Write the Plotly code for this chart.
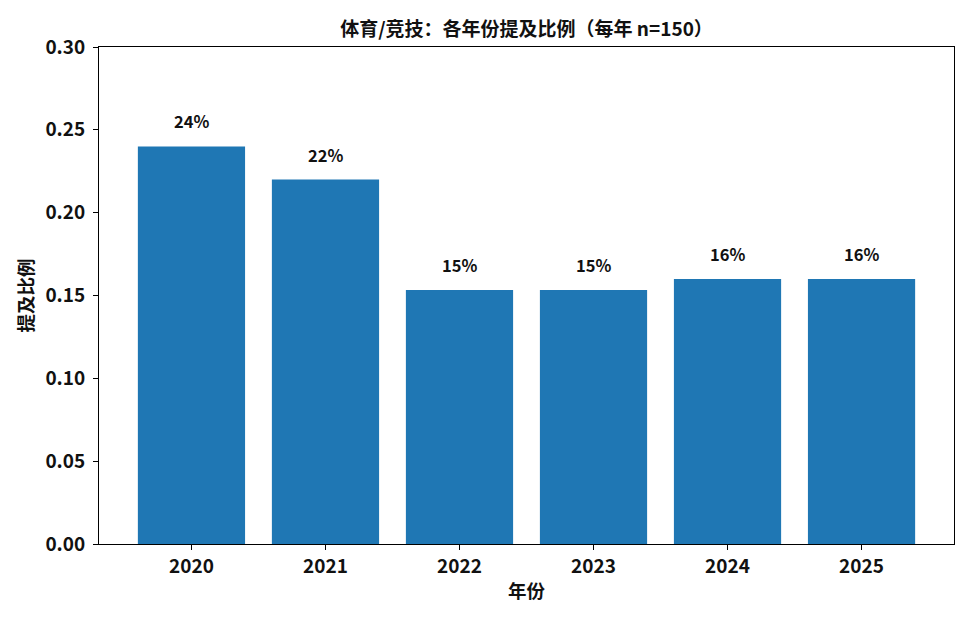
import plotly.graph_objects as go

years = ["2020", "2021", "2022", "2023", "2024", "2025"]
shares = [0.24, 0.22, 0.1533, 0.1533, 0.16, 0.16]
labels = [f"{v * 100:.0f}%" for v in shares]
y_ticks = [0.0, 0.05, 0.10, 0.15, 0.20, 0.25, 0.30]

FONT = "Noto Sans CJK SC"
BLUE = "#1f77b4"

fig = go.Figure()

fig.add_trace(
    go.Bar(
        x=list(range(len(years))),
        y=shares,
        width=0.8,
        marker=dict(color=BLUE, line=dict(width=0)),
        hoverinfo="skip",
    )
)

# value labels above the bars
for i, (v, t) in enumerate(zip(shares, labels)):
    fig.add_annotation(
        x=i,
        y=v,
        text=t,
        showarrow=False,
        yanchor="bottom",
        yshift=11,
        font=dict(family=FONT, size=16.5, color="#111111", weight="bold"),
    )

# page body has an 8px margin, so margins are shifted to land the axes
fig.update_layout(
    width=975,
    height=623,
    paper_bgcolor="white",
    plot_bgcolor="white",
    showlegend=False,
    margin=dict(l=91, r=29, t=39, b=87),
    font=dict(family=FONT, color="#111111", weight="bold"),
    title=dict(
        text="体育/竞技：各年份提及比例（每年 n=150）",
        xref="paper",
        x=0.5,
        xanchor="center",
        y=1 - 21 / 623,
        yanchor="middle",
        font=dict(family=FONT, size=19, weight="bold"),
    ),
)

fig.update_xaxes(
    range=[-0.69, 5.69],
    tickmode="array",
    tickvals=list(range(len(years))),
    ticktext=years,
    ticks="outside",
    ticklen=5,
    tickwidth=1,
    tickcolor="black",
    showline=True,
    linecolor="black",
    linewidth=1,
    mirror=True,
    showgrid=False,
    zeroline=False,
    tickfont=dict(family=FONT, size=19, weight="bold"),
    title=dict(text="年份", font=dict(family=FONT, size=18.5, weight="bold"), standoff=8),
)

fig.update_yaxes(
    range=[0, 0.30],
    tickmode="array",
    tickvals=y_ticks,
    ticktext=[f"{v:.2f}" for v in y_ticks],
    ticks="outside",
    ticklen=5,
    tickwidth=1,
    tickcolor="black",
    showline=True,
    linecolor="black",
    linewidth=1,
    mirror=True,
    showgrid=False,
    zeroline=False,
    ticklabelstandoff=4,
    tickfont=dict(family=FONT, size=19, weight="bold"),
    title=dict(text="提及比例", font=dict(family=FONT, size=18.5, weight="bold"), standoff=6),
)

fig.write_html("out.html")
